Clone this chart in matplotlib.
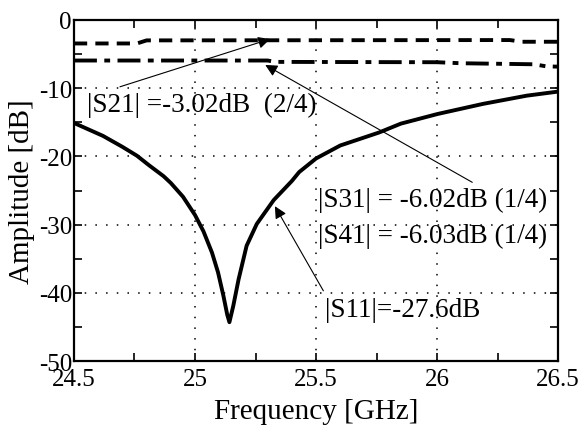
import numpy as np
import matplotlib.pyplot as plt
from matplotlib.ticker import MultipleLocator

# S-parameter data (GHz, dB)
f_s11 = [24.5, 24.62, 24.7, 24.76, 24.81, 24.87, 24.9, 24.95, 25.0, 25.035,
         25.07, 25.095, 25.117, 25.133, 25.142, 25.158, 25.18, 25.213, 25.255,
         25.325, 25.4, 25.43, 25.5, 25.6, 25.76, 25.85, 26.0, 26.19, 26.37, 26.5]
s11 = [-15.1, -17.0, -18.6, -19.9, -21.3, -22.9, -23.9, -25.9, -28.6, -31.0,
       -34.1, -37.0, -40.4, -43.2, -44.3, -41.9, -38.0, -33.1, -29.9,
       -26.4, -23.6, -22.3, -20.3, -18.4, -16.5, -15.2, -13.8, -12.3, -11.1, -10.5]

f_s21 = [24.5, 24.76, 24.8, 26.3, 26.35, 26.5]
s21 = [-3.45, -3.45, -3.0, -2.95, -3.2, -3.2]

f_s31 = [24.5, 25.3, 25.33, 26.0, 26.1, 26.4, 26.45, 26.5]
s31 = [-5.95, -5.95, -6.15, -6.2, -6.35, -6.5, -6.8, -6.85]

x_ticks = [24.5, 25, 25.5, 26, 26.5]
x_ticklabels = ['24.5', '25', '25.5', '26', '26.5']
y_ticks = [-50, -40, -30, -20, -10, 0]


def main():
    plt.rcParams['font.family'] = ['Liberation Serif', 'DejaVu Serif']
    plt.rcParams['axes.unicode_minus'] = False

    fig = plt.figure(figsize=(5.87, 4.27), dpi=100)
    ax = fig.add_axes([0.126, 0.152, 0.825, 0.799])

    ax.plot(f_s11, s11, color='k', lw=2.8, solid_capstyle='round', zorder=3)
    ax.plot(f_s21, s21, color='k', lw=2.8, linestyle=(0, (3.4, 2.1)), zorder=3)
    ax.plot(f_s31, s31, color='k', lw=2.8,
            linestyle=(0, (5.9, 1.9, 1.5, 1.9)), zorder=3)

    ax.set_xlim(24.5, 26.5)
    ax.set_ylim(-50, 0)
    ax.set_xticks(x_ticks)
    ax.set_xticklabels(x_ticklabels)
    ax.set_yticks(y_ticks)
    ax.xaxis.set_minor_locator(MultipleLocator(0.25))
    ax.yaxis.set_minor_locator(MultipleLocator(5))

    ax.tick_params(which='both', direction='in', top=True, right=True,
                   length=6, width=1.2, labelsize=18)
    ax.tick_params(axis='x', pad=5)
    ax.tick_params(axis='y', pad=1.5)
    for sp in ax.spines.values():
        sp.set_linewidth(1.6)

    ax.grid(True, which='major', color='k', lw=1.1, linestyle=(0, (1, 6)))

    ax.set_xlabel('Frequency [GHz]', fontsize=21)
    ax.xaxis.set_label_coords(0.5, -0.108)
    ax.set_ylabel('Amplitude [dB]', fontsize=21)
    ax.yaxis.set_label_coords(-0.08, 0.5)

    arrow = dict(arrowstyle='-|>', color='k', lw=0.8, mutation_scale=18,
                 shrinkA=0, shrinkB=0)
    ax.annotate('', xy=(25.31, -2.8), xytext=(24.69, -9.8), arrowprops=arrow)
    ax.annotate('', xy=(25.29, -6.6), xytext=(26.145, -23.8), arrowprops=arrow)
    ax.annotate('', xy=(25.33, -27.3), xytext=(25.53, -39.7), arrowprops=arrow)

    ax.text(24.554, -13.4, '|S21| =-3.02dB  (2/4)', fontsize=19.5, va='baseline')
    ax.text(25.508, -27.2, '|S31| = -6.02dB (1/4)', fontsize=19.5, va='baseline')
    ax.text(25.508, -32.6, '|S41| = -6.03dB (1/4)', fontsize=19.5, va='baseline')
    ax.text(25.537, -43.4, '|S11|=-27.6dB', fontsize=19.5, va='baseline')

    fig.savefig('out.png', dpi=100)


if __name__ == "__main__":
    main()
